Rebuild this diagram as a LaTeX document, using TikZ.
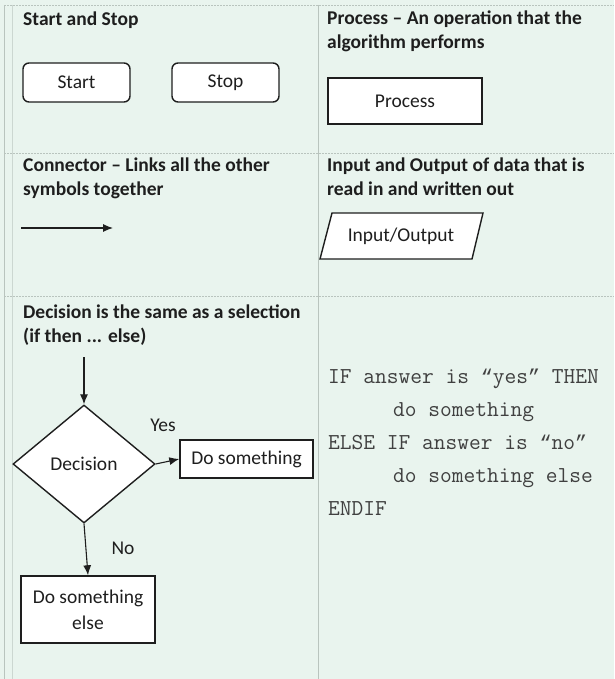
\documentclass[tikz,border=0pt]{standalone}
\usepackage{fontspec}
\setmainfont{Carlito}
\newfontfamily\quotefont{Liberation Mono}
\newcommand{\qmark}[1]{{\quotefont\fontsize{20}{33}\selectfont #1}}
\usetikzlibrary{shapes.geometric,arrows.meta}
\definecolor{paper}{RGB}{233,244,238}
\definecolor{gridline}{RGB}{185,196,190}
\definecolor{ink}{RGB}{30,30,30}
\begin{document}
\begin{tikzpicture}[x=1pt,y=-1pt,
    heading/.style={anchor=base west, align=left, inner sep=0pt, text=ink,
        font=\fontsize{19.5}{24}\selectfont\bfseries},
    box/.style={draw=ink, line width=1.4pt, fill=white, text=ink, inner sep=0pt,
        align=center, font=\fontsize{19.5}{26}\selectfont},
    label/.style={inner sep=0pt, text=ink, font=\fontsize{19.5}{24}\selectfont},
    flow/.style={draw=ink, line width=1.1pt, -{Latex[length=10pt,width=8pt]}},
    cell/.style={gridline, line width=0.6pt, dash pattern=on 2pt off 1pt}]
    \useasboundingbox[fill=paper] (0,0) rectangle (614,679);

    % table lines
    \draw[cell] (4,5) -- (614,5);
    \draw[cell] (4,153) -- (614,153);
    \draw[cell] (4,296) -- (614,296);
    \draw[gridline, line width=0.6pt] (318,5) -- (318,679);
    \draw[gridline, line width=0.6pt] (4,5) -- (4,679);
    \draw[gridline!60!paper, line width=0.6pt] (12,5) -- (12,679);

    % start and stop (base = last line)
    \node[heading] (hstart) at (23,26) {Start and Stop};
    \node[box, rounded corners=6pt, minimum width=107pt, minimum height=39pt] (start) at (76.5,82.5) {Start};
    \node[box, rounded corners=6pt, minimum width=107pt, minimum height=39pt] (stop) at (225.5,82.5) {Stop};

    % process
    \node[heading] (hproc) at (327,49) {Process -- An operation that the\\algorithm performs};
    \node[box, minimum width=154pt, minimum height=46pt] (proc) at (405,101) {Process};

    % connector
    \node[heading] (hconn) at (23,195) {Connector -- Links all the other\\symbols together};
    \coordinate (cfrom) at (21,228);
    \coordinate (cto) at (113,228);
    \draw[flow] (cfrom) -- (cto);

    % input / output
    \node[heading] (hio) at (327,195) {Input and Output of data that is\\read in and written out};
    \draw[ink, line width=1.4pt, fill=white] (320,259) -- (332,213) -- (483,213) -- (472,259) -- cycle;
    \node[label] (io) at (401,236) {Input/Output};

    % decision
    \node[heading] (hdec) at (23,342) {Decision is the same as a selection\\(if then ... else)};
    \coordinate (din) at (84,357);
    \node[box, diamond, aspect=1.2, minimum width=142pt, minimum height=118pt] (dec) at (84,464) {Decision};
    \node[box, minimum width=133pt, minimum height=38pt] (yes) at (246.5,459) {Do something};
    \node[box, minimum width=134pt, minimum height=67pt] (no) at (88,609.5) {Do something\\else};
    \draw[flow] (din) -- (dec.north);
    \draw[flow] (dec.east) -- (yes.west);
    \draw[flow] (dec.south) -- (no.north);
    \node[label] (lyes) at (163,425) {Yes};
    \node[label] (lno) at (123,548) {No};

    % pseudo code
    \node[anchor=base west, align=left, inner sep=0pt, text=ink!85,
        font=\ttfamily\fontsize{22.8}{33}\selectfont] (code) at (328,515)
        {IF answer is \qmark{“}yes\qmark{”} THEN\\
        \hspace*{65pt}do something\\
        ELSE IF answer is \qmark{“}no\qmark{”}\\
        \hspace*{65pt}do something else\\
        ENDIF};
\end{tikzpicture}
\end{document}
